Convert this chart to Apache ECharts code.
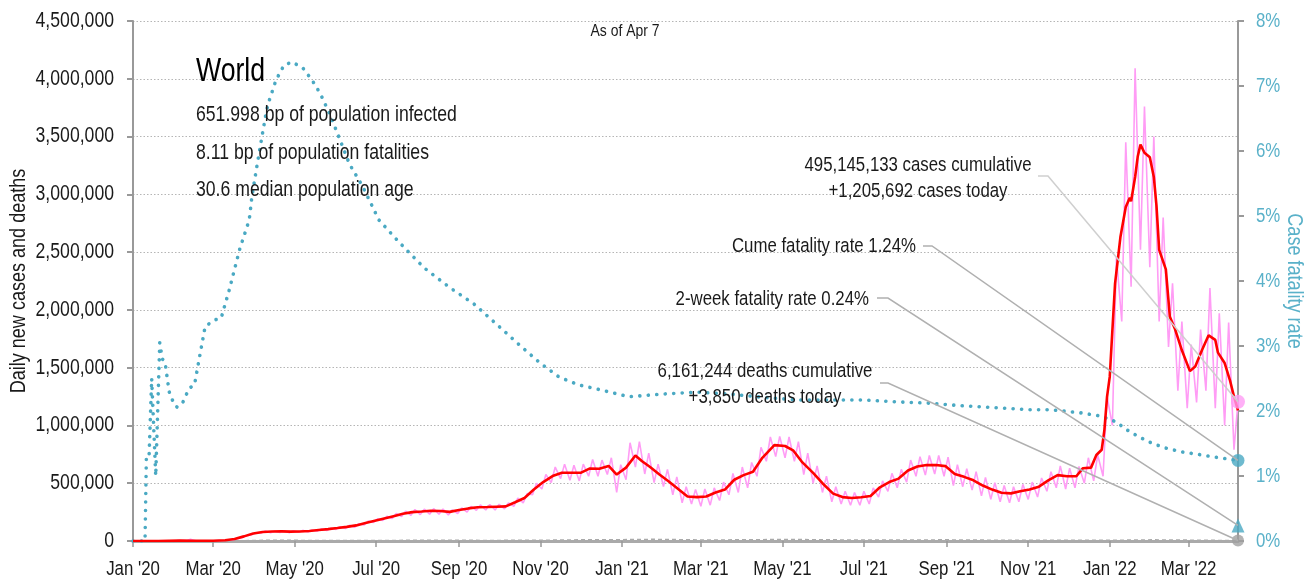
<!DOCTYPE html>
<html><head><meta charset="utf-8">
<script src="https://cdn.jsdelivr.net/npm/echarts@6/dist/echarts.min.js"></script>
<style>html,body{margin:0;padding:0;background:#fff}#c{width:1305px;height:580px}</style>
</head><body><div id="c"></div>
<script>
const FONT = "'Liberation Sans',Arial,sans-serif";
const SX = 0.82; // horizontal squeeze to mimic a narrow face

// ---- data (thousands for cases/deaths, percent for CFR) ----
const firstDate = '2020-01-01';
const lastDate = '2022-04-07';
const xTickDates = ['2020-01-01','2020-03-01','2020-05-01','2020-07-01','2020-09-01','2020-11-01',
  '2021-01-01','2021-03-01','2021-05-01','2021-07-01','2021-09-01','2021-11-01','2022-01-01','2022-03-01'];
const monthNames = ['Jan','Feb','Mar','Apr','May','Jun','Jul','Aug','Sep','Oct','Nov','Dec'];
const leftTicks = [0,500000,1000000,1500000,2000000,2500000,3000000,3500000,4000000,4500000];
const rightTicks = [0,1,2,3,4,5,6,7,8];

// daily cases: weekly low (Monday) and high (Thursday), weeks starting 2020-01-06
const pinkWeekStart = '2020-01-06';
const pinkLoK = [0,0,0.1,1,3,3,2,1,2,4,12,30,55,70,72,74,72,75,78,85,90,100,108,120,138,160,178,195,212,222,
  228,232,232,225,238,250,265,268,268,278,300,330,400,450,505,540,525,520,560,560,575,420,530,640,580,505,470,400,330,320,
  300,310,350,400,420,460,560,690,730,720,690,575,500,420,340,320,310,310,320,380,430,460,510,560,570,580,560,480,470,440,
  390,360,340,330,340,360,380,430,460,450,460,500,520,560,1000,1900,2200,2520,2370,1900,1680,1300,1150,1200,1300,1150,1000,790];
const pinkHiK = [0,0,0.5,2,4,15,1,2,3,8,20,45,72,86,85,88,88,92,96,105,112,124,136,150,172,192,214,238,258,272,
  276,280,276,270,286,300,312,316,318,330,372,410,500,575,640,665,655,665,705,700,720,660,850,860,760,665,620,555,470,445,
  450,460,510,585,640,680,810,900,905,900,860,760,650,560,470,430,420,430,460,520,585,620,700,730,740,740,725,660,625,600,
  550,505,480,470,490,510,545,600,650,630,645,720,745,1250,2460,3450,4090,3760,3500,2800,2230,1900,1700,1830,2190,1970,1890,1205.692];

// 7-day average of new cases
const redK = [
  ['2020-01-01',0],['2020-01-20',0.5],['2020-02-05',3],['2020-02-15',2.5],['2020-03-01',2],['2020-03-10',6],
  ['2020-03-17',18],['2020-03-24',40],['2020-03-31',65],['2020-04-07',78],['2020-04-14',82],['2020-04-21',83],
  ['2020-04-28',81],['2020-05-05',82],['2020-05-12',87],['2020-05-19',95],['2020-05-26',103],['2020-06-02',112],
  ['2020-06-09',122],['2020-06-16',135],['2020-06-23',155],['2020-06-30',175],['2020-07-07',195],['2020-07-14',215],
  ['2020-07-21',235],['2020-07-28',250],['2020-08-04',255],['2020-08-11',262],['2020-08-18',260],['2020-08-25',252],
  ['2020-09-01',268],['2020-09-08',282],['2020-09-15',292],['2020-09-22',294],['2020-09-29',297],['2020-10-06',300],
  ['2020-10-13',335],['2020-10-20',372],['2020-10-27',445],['2020-11-03',510],['2020-11-10',562],['2020-11-17',590],
  ['2020-11-24',590],['2020-12-01',590],['2020-12-08',628],['2020-12-15',625],['2020-12-22',650],['2020-12-28',575],
  ['2021-01-04',635],['2021-01-11',740],['2021-01-16',690],['2021-01-22',640],['2021-01-29',575],['2021-02-05',515],
  ['2021-02-12',450],['2021-02-19',385],['2021-02-26',380],['2021-03-05',385],['2021-03-12',420],['2021-03-19',445],
  ['2021-03-26',530],['2021-04-02',570],['2021-04-09',600],['2021-04-16',720],['2021-04-25',830],['2021-05-03',822],
  ['2021-05-09',785],['2021-05-16',680],['2021-05-24',590],['2021-05-31',500],['2021-06-08',410],['2021-06-15',380],
  ['2021-06-22',372],['2021-06-29',378],['2021-07-06',390],['2021-07-13',465],['2021-07-20',510],['2021-07-27',540],
  ['2021-08-03',610],['2021-08-10',645],['2021-08-17',657],['2021-08-24',657],['2021-08-31',648],['2021-09-07',580],
  ['2021-09-14',555],['2021-09-21',525],['2021-09-28',480],['2021-10-05',445],['2021-10-12',418],['2021-10-19',412],
  ['2021-10-26',430],['2021-11-02',445],['2021-11-09',470],['2021-11-16',525],['2021-11-23',570],['2021-11-30',560],
  ['2021-12-07',560],['2021-12-12',630],['2021-12-18',635],['2021-12-22',744],['2021-12-26',790],['2021-12-28',960],
  ['2021-12-30',1250],['2022-01-01',1420],['2022-01-05',2230],['2022-01-09',2630],['2022-01-13',2890],['2022-01-16',2970],
  ['2022-01-17',2940],['2022-01-20',3150],['2022-01-22',3330],['2022-01-24',3430],['2022-01-27',3360],['2022-01-31',3320],
  ['2022-02-03',3150],['2022-02-05',2900],['2022-02-07',2520],['2022-02-12',2350],['2022-02-15',1940],['2022-02-19',1830],
  ['2022-02-24',1650],['2022-03-02',1470],['2022-03-06',1510],['2022-03-11',1650],['2022-03-16',1780],['2022-03-21',1740],
  ['2022-03-23',1630],['2022-03-28',1540],['2022-04-01',1390],['2022-04-04',1250],['2022-04-07',1130]];

// cumulative case fatality rate, %
const cfrPct = [
  ['2020-01-01',0],['2020-01-10',0],['2020-01-11',1.28],['2020-01-13',1.28],['2020-01-15',2.5],['2020-01-18',1.0],
  ['2020-01-21',3.05],['2020-01-23',2.8],['2020-01-25',2.75],['2020-01-28',2.3],['2020-02-01',2.09],['2020-02-03',2.06],
  ['2020-02-07',2.12],['2020-02-12',2.35],['2020-02-16',2.4],['2020-02-24',3.3],['2020-03-02',3.4],['2020-03-07',3.43],
  ['2020-03-13',3.86],['2020-03-21',4.5],['2020-03-28',4.94],['2020-03-30',5.3],['2020-04-03',5.8],['2020-04-07',6.28],
  ['2020-04-10',6.63],['2020-04-12',6.78],['2020-04-17',7.09],['2020-04-23',7.32],['2020-04-29',7.37],['2020-05-07',7.28],
  ['2020-05-14',7.09],['2020-05-20',6.89],['2020-05-27',6.58],['2020-06-03',6.22],['2020-06-11',5.8],['2020-06-21',5.45],
  ['2020-07-03',4.94],['2020-07-18',4.6],['2020-08-06',4.2],['2020-08-25',3.9],['2020-09-12',3.65],['2020-10-01',3.3],
  ['2020-10-16',3.02],['2020-10-31',2.75],['2020-11-15',2.52],['2020-11-30',2.4],['2020-12-15',2.33],['2021-01-06',2.22],
  ['2021-01-31',2.26],['2021-02-26',2.29],['2021-03-23',2.26],['2021-04-17',2.21],['2021-05-12',2.17],['2021-06-05',2.17],
  ['2021-06-30',2.17],['2021-07-26',2.14],['2021-08-19',2.12],['2021-09-13',2.08],['2021-10-08',2.05],['2021-11-02',2.02],
  ['2021-11-17',2.02],['2021-12-11',1.97],['2021-12-26',1.92],['2022-01-06',1.83],['2022-01-13',1.72],['2022-01-23',1.6],
  ['2022-02-02',1.5],['2022-02-12',1.43],['2022-02-24',1.37],['2022-03-09',1.33],['2022-03-21',1.29],['2022-04-07',1.24]];

// 7-day average of new deaths
const deathsK = [
  ['2020-01-01',0],['2020-03-01',0.1],['2020-03-15',0.5],['2020-04-01',4.5],['2020-04-15',7],['2020-05-01',5.5],
  ['2020-06-01',4.5],['2020-07-01',4.8],['2020-08-01',5.8],['2020-09-01',5.5],['2020-10-01',5.3],['2020-11-01',6.5],
  ['2020-12-01',10],['2021-01-01',11.5],['2021-01-25',14.5],['2021-03-01',9],['2021-04-01',10],['2021-05-01',13.5],
  ['2021-06-01',11],['2021-07-01',7.8],['2021-08-01',9],['2021-09-01',10],['2021-10-01',7.5],['2021-11-01',6.8],
  ['2021-12-01',7],['2022-01-01',6.2],['2022-02-01',10],['2022-03-01',7.5],['2022-04-07',3.85]];

const casesToday = 1205692, deathsToday = 3850, cumeCFR = 1.24, twoWeekCFR = 0.24;
const asOf = 'As of Apr 7';
const place = 'World';
const infoLines = ['651.998 bp of population infected','8.11 bp of population fatalities','30.6 median population age'];
const annCases = ['495,145,133 cases cumulative','+1,205,692 cases today'];
const annCume = 'Cume fatality rate 1.24%';
const annTwoWeek = '2-week fatality rate 0.24%';
const annDeaths = ['6,161,244 deaths cumulative','+3,850 deaths today'];
const leftName = 'Daily new cases and deaths';
const rightName = 'Case fatality rate';

// ---- helpers ----
function ts(s){ return new Date(s + 'T00:00:00').getTime(); }
function addDays(s, n){ const d = new Date(s + 'T00:00:00Z'); d.setUTCDate(d.getUTCDate() + n); return d.toISOString().slice(0,10); }
const pinkData = [];
pinkLoK.forEach((lo, i) => {
  pinkData.push([ts(addDays(pinkWeekStart, 7*i)), lo*1000]);
  pinkData.push([ts(addDays(pinkWeekStart, 7*i + 3)), pinkHiK[i]*1000]);
});
const redData = redK.map(d => [ts(d[0]), d[1]*1000]);
const deathsData = deathsK.map(d => [ts(d[0]), d[1]*1000]);
const cfrData = cfrPct.map(d => [ts(d[0]), d[1]]);
const xTickValues = xTickDates.map(ts);
function fmtMonth(v){ const d = new Date(v); return monthNames[d.getMonth()] + " '" + String(d.getFullYear()).slice(2); }

const TEAL = '#4aa9c3', TEAL_TXT = '#5ab1c9', PINK = '#ff9cf5', GRAY = '#999', INK = '#1a1a1a';
const chart = echarts.init(document.getElementById('c'), null, {renderer:'canvas'});

function ctext(text, x, y, size, align, color, rot){
  return {type:'text', x:x, y:y, rotation:rot||0, scaleX:SX, scaleY:1, silent:true, z:50,
    style:{text:text, x:0, y:0, fontSize:size, fontFamily:FONT, fill:color||INK, align:align||'left', verticalAlign:'middle'}};
}

const axisGray = {color: GRAY, width: 2};
const option = {
  animation: false,
  backgroundColor: '#fff',
  textStyle: {fontFamily: FONT},
  grid: {left:133, right:67, top:21, bottom:39, containLabel:false, outerBoundsMode:'none'},
  xAxis: {
    type:'value', min: ts(firstDate), max: ts(lastDate), scale:true,
    axisLine: {show:true, onZero:false, lineStyle:{color:'#aaa', width:3}},
    axisTick: {show:true, length:6, lineStyle:{color:GRAY, width:1.5}, customValues: xTickValues},
    axisLabel: {show:false, customValues: xTickValues},
    splitLine: {show:false}
  },
  yAxis: [
    {type:'value', min:0, max:4500000, interval:500000, position:'left',
     axisLine:{show:true, lineStyle:axisGray},
     axisTick:{show:true, length:6, lineStyle:axisGray},
     axisLabel:{show:false},
     splitLine:{show:true, lineStyle:{color:'#b5b5b5', width:1, type:[1.5,2]}}},
    {type:'value', min:0, max:8, interval:1, position:'right',
     axisLine:{show:true, lineStyle:axisGray},
     axisTick:{show:true, length:6, lineStyle:axisGray},
     axisLabel:{show:false},
     splitLine:{show:false}}
  ],
  series: [
    {type:'line', name:'deaths', data:deathsData, yAxisIndex:0, symbol:'none', silent:true, z:1,
     lineStyle:{color:'#aaa', width:1.5, type:[4,3]}},
    {type:'line', name:'cases daily', data:pinkData, yAxisIndex:0, symbol:'none', silent:true, z:2,
     lineStyle:{color:PINK, width:1.6}},
    {type:'line', name:'cfr', data:cfrData, yAxisIndex:1, symbol:'none', silent:true, z:3,
     lineStyle:{color:TEAL, width:3.6, type:[0.1,8.4], cap:'round', join:'round'}},
    {type:'line', name:'cases 7d', data:redData, yAxisIndex:0, symbol:'none', silent:true, z:4,
     lineStyle:{color:'#ff0000', width:2.6}},
    {type:'scatter', yAxisIndex:0, data:[[ts(lastDate), casesToday]], symbol:'circle', symbolSize:14, clip:false, silent:true, z:6,
     itemStyle:{color:PINK}},
    {type:'scatter', yAxisIndex:0, data:[[ts(lastDate), deathsToday]], symbol:'circle', symbolSize:12, clip:false, silent:true, z:6,
     itemStyle:{color:'#a0a0a0'}},
    {type:'scatter', yAxisIndex:1, data:[[ts(lastDate), cumeCFR]], symbol:'circle', symbolSize:13, clip:false, silent:true, z:6,
     itemStyle:{color:TEAL}},
    {type:'scatter', yAxisIndex:1, data:[[ts(lastDate), twoWeekCFR]], symbol:'triangle', symbolSize:[13,14], clip:false, silent:true, z:6,
     itemStyle:{color:TEAL}}
  ]
};
chart.setOption(option);

// positions through the chart's own scales
function px(yAxisIndex, xv, yv){ return chart.convertToPixel({xAxisIndex:0, yAxisIndex:yAxisIndex}, [xv, yv]); }
const graphics = [];
// axis tick labels
leftTicks.forEach(v => { const p = px(0, ts(firstDate), v); graphics.push(ctext(v.toLocaleString('en-US'), p[0] - 19, p[1], 21.5, 'right')); });
rightTicks.forEach(v => { const p = px(1, ts(lastDate), v); graphics.push(ctext(v + '%', p[0] + 18, p[1], 20.5, 'left', TEAL_TXT)); });
xTickValues.forEach(v => { const p = px(0, v, 0); graphics.push(ctext(fmtMonth(v), p[0], p[1] + 28, 20.5, 'center')); });
// axis names
graphics.push(ctext(leftName, 19, 281, 22, 'center', INK, Math.PI/2));
graphics.push(ctext(rightName, 1294, 281, 22, 'center', TEAL_TXT, -Math.PI/2));
// titles and notes
graphics.push(ctext(asOf, 625, 31, 17, 'center'));
graphics.push(ctext(place, 196, 72, 32.5, 'left', '#000'));
graphics.push(ctext(infoLines[0], 196, 115, 21.5, 'left'));
graphics.push(ctext(infoLines[1], 196, 153, 21.5, 'left'));
graphics.push(ctext(infoLines[2], 196, 190, 21.5, 'left'));
graphics.push(ctext(annCases[0], 918, 165, 20.5, 'center'));
graphics.push(ctext(annCases[1], 918, 191, 20.5, 'center'));
graphics.push(ctext(annCume, 916, 246, 20.5, 'right'));
graphics.push(ctext(annTwoWeek, 869, 299, 20.5, 'right'));
graphics.push(ctext(annDeaths[0], 765, 371, 20.5, 'center'));
graphics.push(ctext(annDeaths[1], 765, 397, 20.5, 'center'));
// leader lines to the end markers
function leader(a, b, end, color){
  return {type:'polyline', silent:true, z:40, shape:{points:[a, b, end]}, style:{stroke:color, lineWidth:1.5, fill:null}};
}
const endX = ts(lastDate);
graphics.push(leader([1038,176],[1048,176], px(0, endX, casesToday), '#cfcfcf'));
graphics.push(leader([923,246],[932,246], px(1, endX, cumeCFR), '#b0b0b0'));
graphics.push(leader([877,298],[888,298], px(1, endX, twoWeekCFR), '#b0b0b0'));
graphics.push(leader([880,383],[888,383], px(0, endX, deathsToday), '#b0b0b0'));
chart.setOption({graphic: graphics});
</script></body></html>
